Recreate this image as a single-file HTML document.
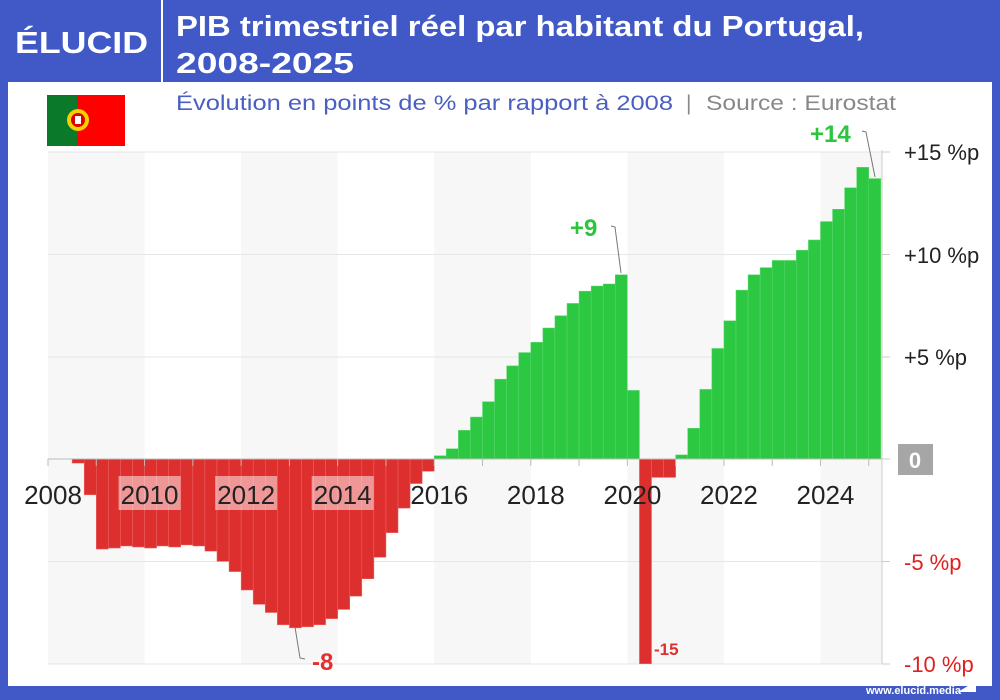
<!DOCTYPE html>
<html><head><meta charset="utf-8"><style>
html,body{margin:0;padding:0;width:1000px;height:700px;overflow:hidden;background:#4159c6;font-family:"Liberation Sans",sans-serif}
</style></head><body>
<svg id="s" width="1000" height="700" xmlns="http://www.w3.org/2000/svg" style="position:absolute;left:0;top:0">
<rect x="0" y="0" width="1000" height="700" fill="#4159c6"/>
<rect x="8" y="82" width="984" height="604" fill="#fff"/>
<line x1="162" y1="0" x2="162" y2="82" stroke="#fff" stroke-width="2"/>
<text x="15" y="53" fill="#fff" font-size="31" font-weight="bold" textLength="133" lengthAdjust="spacingAndGlyphs">ÉLUCID</text>
<text x="176" y="36" fill="#fff" font-size="29" font-weight="bold" textLength="688" lengthAdjust="spacingAndGlyphs">PIB trimestriel réel par habitant du Portugal,</text>
<text x="176" y="73" fill="#fff" font-size="29" font-weight="bold" textLength="178" lengthAdjust="spacingAndGlyphs">2008-2025</text>
<text x="176" y="110" fill="#4a5fc1" font-size="21" textLength="497" lengthAdjust="spacingAndGlyphs">Évolution en points de % par rapport à 2008</text>
<text x="686" y="110" fill="#888" font-size="21">|</text>
<text x="706" y="110" fill="#888" font-size="21" textLength="190" lengthAdjust="spacingAndGlyphs">Source : Eurostat</text>
<rect x="47" y="95" width="31" height="51" fill="#0a7a2a"/>
<rect x="78" y="95" width="47" height="51" fill="#f00"/>
<circle cx="78" cy="120" r="11" fill="#f4d000"/>
<circle cx="78" cy="120" r="7" fill="#d00"/>
<rect x="75" y="116" width="6" height="8" fill="#fff"/>
<g id="bands"></g>
<g id="grid" stroke="#e6e6e6" stroke-width="1">
<line x1="48" y1="152" x2="882" y2="152"/><line x1="48" y1="254.5" x2="882" y2="254.5"/><line x1="48" y1="357" x2="882" y2="357"/><line x1="48" y1="561.5" x2="882" y2="561.5"/><line x1="48" y1="664" x2="882" y2="664"/>
</g>
<g id="bars"></g>
<line x1="48" y1="459" x2="882" y2="459" stroke="#bbb"/>
<g id="ticks" stroke="#bbb"></g>
<line x1="882" y1="150" x2="882" y2="664" stroke="#ccc"/>
<g stroke="#ccc"><line x1="882" y1="152" x2="890" y2="152"/><line x1="882" y1="254.5" x2="890" y2="254.5"/><line x1="882" y1="357" x2="890" y2="357"/><line x1="882" y1="459" x2="890" y2="459"/><line x1="882" y1="561.5" x2="890" y2="561.5"/><line x1="882" y1="664" x2="890" y2="664"/></g>
<g id="years" font-size="26" fill="#222" text-anchor="middle"></g>
<g font-size="22" fill="#222">
<text x="904" y="160">+15 %p</text><text x="904" y="263">+10 %p</text><text x="904" y="365">+5 %p</text>
</g>
<rect x="898" y="444" width="35" height="31" fill="#a6a6a6"/>
<text x="915" y="468" font-size="22" fill="#fff" font-weight="bold" text-anchor="middle">0</text>
<g font-size="22" fill="#e02020"><text x="904" y="570">-5 %p</text><text x="904" y="672">-10 %p</text></g>
<g stroke="#777" fill="none" stroke-width="1">
<polyline points="611,226 615,227 621,273"/>
<polyline points="862,131 866,132 875,177"/>
<polyline points="295,627 300,658 305,659"/>
</g>
<text x="570" y="236" font-size="24" font-weight="bold" fill="#2dc440">+9</text>
<text x="810" y="142" font-size="24" font-weight="bold" fill="#2dc440">+14</text>
<text x="312" y="670" font-size="24" font-weight="bold" fill="#e03030">-8</text>
<text x="654" y="655" font-size="17" font-weight="bold" fill="#e03030">-15</text>
<text x="866" y="694" font-size="11" fill="#fff" font-weight="bold">www.elucid.media</text>
<polygon points="958,692 976,681 976,692" fill="#fff"/>
</svg>
<script>
var v=[0,0,-0.2,-1.75,-4.4,-4.35,-4.25,-4.3,-4.35,-4.25,-4.3,-4.2,-4.25,-4.5,-5.0,-5.5,-6.4,-7.1,-7.5,-8.1,-8.25,-8.2,-8.1,-7.8,-7.35,-6.7,-5.85,-4.8,-3.6,-2.4,-1.2,-0.6,
0.16,0.5,1.4,2.05,2.8,3.9,4.55,5.2,5.7,6.4,7.0,7.6,8.2,8.45,8.55,9.0,3.35,-15,-0.9,-0.9,0.2,1.5,3.4,5.4,6.75,8.25,9.0,9.35,9.7,9.7,10.2,10.7,11.6,12.2,13.25,14.25,13.7];
var NS="http://www.w3.org/2000/svg",q=12.07,x0=48,z=459,k=20.47;
function el(p,t,a){var e=document.createElementNS(NS,t);for(var i in a)e.setAttribute(i,a[i]);document.getElementById(p).appendChild(e);return e;}
for(var y=0;y<18;y+=4){var bx=x0+y*4*q;el("bands","rect",{x:bx,y:152,width:Math.min(8*q,882-bx),height:512,fill:"#f7f7f7"});}
for(var i=0;i<v.length;i++){var val=Math.max(v[i],-10),h=Math.abs(val)*k,x=x0+i*q;
if(h<0.5)continue;
el("bars","rect",{"x":x,"y":val>0?z-h:z,"width":q,"height":h,"fill":val>0?"#2cc842":"#de2f2f","stroke":val>0?"#5ed870":"#e66","stroke-width":0.5});}
for(var y=0;y<=17;y++){var tx=x0+y*4*q;el("ticks","line",{x1:tx,y1:459,x2:tx,y2:466});}
for(var y=2008;y<=2024;y+=2){var tx=x0+(y-2008)*4*q+5;
if(y>=2010&&y<=2014)el("years","rect",{x:tx-31,y:476,width:62,height:34,fill:"#fff","fill-opacity":0.5});
var t=el("years","text",{x:tx,y:504});t.textContent=y;}
</script>
</body></html>
